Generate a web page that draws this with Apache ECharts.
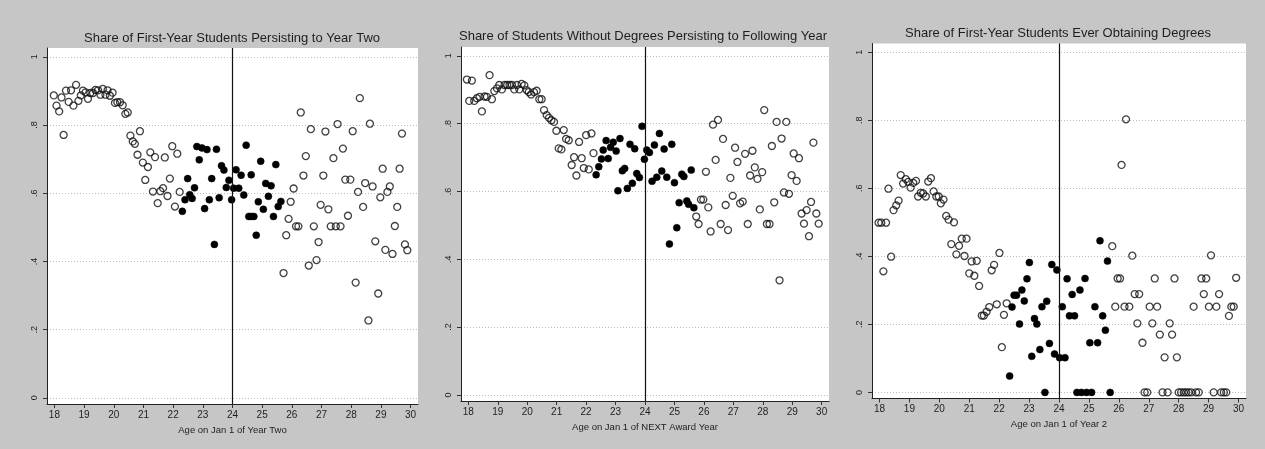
<!DOCTYPE html>
<html>
<head>
<meta charset="utf-8">
<title>Persistence and completion by age</title>
<script src="https://cdn.jsdelivr.net/npm/echarts@6/dist/echarts.min.js"></script>
<style>
  html, body { margin: 0; padding: 0; background: #c6c6c6; }
  #chart { width: 1265px; height: 449px; }
</style>
</head>
<body>
<div id="chart"></div>
<script>
// Panel titles and x-axis titles
const panelTitles = [
  'Share of First-Year Students Persisting to Year Two',
  'Share of Students Without Degrees Persisting to Following Year',
  'Share of First-Year Students Ever Obtaining Degrees'
];
const axisTitles = [
  'Age on Jan 1 of Year Two',
  'Age on Jan 1 of NEXT Award Year',
  'Age on Jan 1 of Year 2'
];

// Tick values
const ageTicks = [18, 19, 20, 21, 22, 23, 24, 25, 26, 27, 28, 29, 30];
const shareTicks = [0, 0.2, 0.4, 0.6, 0.8, 1];
const cutoffAge = 24;

// Panel 1: [age, share] points outside the bandwidth (open) and inside it (filled)
const p1Open = [
  [17.98,.887],[18.07,.857],[18.16,.840],[18.24,.881],[18.31,.771],[18.39,.901],[18.48,.868],[18.56,.902],
  [18.64,.857],[18.73,.918],[18.81,.871],[18.89,.887],[18.96,.901],[19.05,.896],[19.13,.877],[19.21,.894],
  [19.30,.894],[19.38,.903],[19.47,.902],[19.55,.889],[19.63,.906],[19.72,.889],[19.79,.902],[19.87,.886],
  [19.96,.895],[20.04,.865],[20.12,.867],[20.21,.867],[20.30,.858],[20.39,.833],[20.47,.837],[20.56,.769],
  [20.64,.752],[20.71,.745],[20.80,.713],[20.88,.782],[20.98,.690],[21.06,.639],[21.15,.677],[21.23,.720],
  [21.32,.605],[21.39,.706],[21.48,.571],[21.57,.606],[21.66,.615],[21.72,.705],[21.81,.592],[21.89,.643],
  [21.97,.738],[22.06,.561],[22.14,.716],[22.22,.604],
  [25.72,.366],[25.81,.477],[25.89,.525],[25.96,.575],[26.06,.614],[26.14,.503],[26.22,.503],[26.30,.837],
  [26.39,.652],[26.47,.709],[26.57,.388],[26.64,.788],[26.74,.503],[26.83,.404],[26.90,.457],[26.97,.566],
  [27.06,.652],[27.13,.781],[27.23,.553],[27.31,.503],[27.40,.703],[27.48,.503],[27.54,.803],[27.64,.503],
  [27.72,.731],[27.80,.640],[27.89,.534],[27.97,.640],[28.05,.782],[28.15,.338],[28.23,.604],[28.29,.879],
  [28.40,.560],[28.47,.630],[28.58,.227],[28.63,.804],[28.72,.620],[28.81,.459],[28.91,.306],[28.98,.588],
  [29.06,.672],[29.15,.434],[29.22,.604],[29.30,.620],[29.39,.422],[29.47,.504],[29.55,.560],[29.63,.672],
  [29.71,.775],[29.81,.450],[29.89,.433]
];
const p1Filled = [
  [22.31,.547],[22.40,.581],[22.49,.643],[22.56,.596],[22.64,.585],[22.72,.616],[22.80,.737],[22.88,.698],
  [22.97,.733],[23.06,.555],[23.14,.728],[23.22,.581],[23.30,.643],[23.39,.450],[23.46,.729],[23.55,.587],
  [23.63,.681],[23.71,.668],[23.79,.617],[23.88,.638],[23.97,.581],[24.04,.615],[24.12,.669],[24.21,.615],
  [24.29,.653],[24.38,.595],[24.46,.741],[24.55,.532],[24.63,.654],[24.63,.532],[24.72,.532],[24.80,.477],
  [24.87,.575],[24.95,.694],[25.04,.553],[25.12,.629],[25.21,.591],[25.30,.622],[25.38,.532],[25.46,.684],
  [25.54,.561],[25.63,.576]
];

// Panel 2
const p2Open = [
  [17.95,.930],[18.03,.867],[18.12,.927],[18.20,.867],[18.29,.875],[18.38,.879],[18.46,.836],[18.55,.880],
  [18.63,.879],[18.72,.943],[18.80,.872],[18.88,.896],[18.97,.904],[19.05,.914],[19.14,.901],[19.23,.914],
  [19.32,.914],[19.40,.914],[19.48,.914],[19.56,.901],[19.65,.914],[19.73,.901],[19.81,.917],[19.90,.913],
  [19.98,.899],[20.05,.893],[20.13,.886],[20.23,.893],[20.32,.897],[20.41,.872],[20.49,.872],[20.57,.840],
  [20.66,.825],[20.74,.817],[20.82,.810],[20.91,.805],[20.99,.779],[21.07,.727],[21.16,.724],[21.24,.781],
  [21.32,.755],[21.41,.751],[21.51,.678],[21.59,.701],[21.67,.647],[21.76,.746],[21.85,.698],[21.92,.669],
  [22.00,.766],[22.09,.665],[22.18,.771],[22.25,.713],
  [25.74,.526],[25.82,.504],[25.90,.576],[25.98,.576],[26.07,.658],[26.15,.553],[26.23,.482],[26.31,.797],
  [26.40,.693],[26.48,.811],[26.57,.504],[26.65,.755],[26.74,.560],[26.82,.486],[26.90,.640],[26.98,.587],
  [27.06,.729],[27.14,.687],[27.23,.565],[27.32,.570],[27.40,.711],[27.49,.504],[27.57,.647],[27.65,.720],
  [27.73,.671],[27.82,.637],[27.90,.547],[27.98,.657],[28.05,.840],[28.14,.504],[28.23,.504],[28.31,.734],
  [28.39,.568],[28.47,.805],[28.57,.338],[28.64,.756],[28.72,.597],[28.80,.805],[28.89,.593],[28.98,.648],
  [29.05,.712],[29.15,.631],[29.23,.698],[29.32,.535],[29.40,.505],[29.49,.545],[29.57,.468],[29.64,.569],
  [29.72,.744],[29.82,.535],[29.90,.505]
];
const p2Filled = [
  [22.34,.649],[22.43,.673],[22.52,.696],[22.58,.722],[22.68,.750],[22.75,.697],[22.83,.730],[22.92,.745],
  [23.02,.719],[23.08,.602],[23.15,.756],[23.23,.661],[23.31,.668],[23.40,.609],[23.49,.739],[23.57,.624],
  [23.65,.726],[23.72,.653],[23.81,.641],[23.90,.792],[23.98,.695],[24.06,.722],[24.15,.715],[24.24,.630],
  [24.32,.737],[24.40,.642],[24.49,.771],[24.57,.660],[24.65,.725],[24.74,.642],[24.83,.445],[24.91,.739],
  [25.00,.626],[25.08,.493],[25.16,.567],[25.25,.651],[25.32,.644],[25.42,.572],[25.48,.562],[25.57,.663],
  [25.66,.552]
];

// Panel 3
const p3Open = [
  [17.97,.499],[18.06,.499],[18.13,.356],[18.22,.499],[18.30,.599],[18.39,.399],[18.47,.536],[18.56,.550],
  [18.64,.564],[18.71,.639],[18.79,.614],[18.88,.627],[18.96,.619],[19.04,.602],[19.13,.616],[19.22,.622],
  [19.29,.576],[19.38,.587],[19.46,.585],[19.55,.576],[19.63,.620],[19.72,.630],[19.81,.591],[19.90,.576],
  [19.98,.576],[20.05,.556],[20.14,.567],[20.23,.519],[20.31,.508],[20.40,.436],[20.49,.500],[20.57,.406],
  [20.66,.431],[20.75,.452],[20.84,.401],[20.91,.452],[21.00,.350],[21.08,.385],[21.17,.343],[21.25,.387],
  [21.33,.313],[21.42,.226],[21.49,.226],[21.58,.237],[21.67,.251],[21.75,.359],[21.83,.375],[21.92,.259],
  [22.01,.410],[22.09,.133],[22.16,.228],[22.25,.262],
  [25.78,.430],[25.88,.252],[25.96,.335],[26.04,.335],[26.09,.669],[26.19,.252],[26.24,.803],[26.35,.252],
  [26.45,.402],[26.53,.289],[26.62,.203],[26.68,.289],[26.79,.146],[26.86,0],[26.95,0],[27.03,.252],
  [27.12,.203],[27.20,.335],[27.28,.252],[27.37,.170],[27.46,0],[27.53,.103],[27.63,0],[27.70,.203],
  [27.78,.170],[27.86,.335],[27.94,.103],[28.00,0],[28.08,0],[28.17,0],[28.25,0],[28.33,0],
  [28.42,0],[28.50,.252],[28.58,0],[28.67,0],[28.76,.335],[28.84,.289],[28.92,.335],[29.01,.252],
  [29.08,.403],[29.17,0],[29.26,.252],[29.35,.289],[29.42,0],[29.51,0],[29.59,0],[29.68,.225],
  [29.76,.252],[29.84,.252],[29.92,.337]
];
const p3Filled = [
  [22.35,.048],[22.43,.251],[22.50,.286],[22.58,.286],[22.68,.201],[22.76,.301],[22.84,.269],[22.93,.334],
  [23.01,.382],[23.09,.106],[23.18,.217],[23.26,.201],[23.36,.126],[23.43,.252],[23.53,0],[23.59,.268],
  [23.68,.144],[23.76,.376],[23.85,.113],[23.93,.360],[24.02,.102],[24.11,.252],[24.20,.102],[24.27,.334],
  [24.35,.225],[24.44,.288],[24.52,.225],[24.60,0],[24.70,.301],[24.75,0],[24.87,.335],[24.92,0],
  [25.03,.146],[25.09,0],[25.20,.252],[25.29,.146],[25.37,.446],[25.46,.225],[25.55,.183],[25.62,.386],
  [25.71,0]
];

const openSets = [p1Open, p2Open, p3Open];
const filledSets = [p1Filled, p2Filled, p3Filled];

// Layout of the three plot regions
const grids = [
  { left: 47,  top: 48,   width: 371, height: 356 },
  { left: 461, top: 47,   width: 368, height: 354 },
  { left: 872, top: 43.5, width: 374, height: 355 }
];
const titlePos = [
  { x: 232,  y: 32 },
  { x: 643,  y: 30 },
  { x: 1058, y: 27 }
];

const FONT = '"Liberation Sans", Arial, Helvetica, sans-serif';
const INK = '#1e1e1e';

function shareLabel(v) {
  if (Math.abs(v) < 1e-9) return '0';
  if (Math.abs(v - 1) < 1e-9) return '1';
  return String(Math.round(v * 10) / 10).replace(/^0/, '');
}

const option = {
  backgroundColor: '#c6c6c6',
  animation: false,
  title: panelTitles.map((t, i) => ({
    text: t,
    left: titlePos[i].x,
    top: titlePos[i].y,
    textAlign: 'center',
    padding: 0,
    textStyle: { fontFamily: FONT, fontSize: 13, fontWeight: 'normal', color: INK }
  })),
  grid: grids.map(g => ({
    left: g.left, top: g.top, width: g.width, height: g.height,
    show: true, backgroundColor: '#ffffff', borderWidth: 0
  })),
  xAxis: grids.map((g, i) => ({
    type: 'value',
    gridIndex: i,
    min: 17.75,
    max: 30.25,
    name: axisTitles[i],
    nameLocation: 'middle',
    nameGap: 14,
    nameTextStyle: { fontFamily: FONT, fontSize: 9.5, color: INK },
    axisLine: { show: true, onZero: false, lineStyle: { color: '#222', width: 1 } },
    axisTick: { show: true, length: 4, customValues: ageTicks, lineStyle: { color: '#333' } },
    axisLabel: {
      customValues: ageTicks, margin: 6,
      fontFamily: FONT, fontSize: 10, color: INK
    },
    splitLine: { show: false }
  })),
  yAxis: grids.map((g, i) => ({
    type: 'value',
    gridIndex: i,
    min: -0.018,
    max: 1.026,
    axisLine: { show: true, onZero: false, lineStyle: { color: '#222', width: 1 } },
    axisTick: { show: true, length: 4, customValues: shareTicks, lineStyle: { color: '#333' } },
    axisLabel: {
      customValues: shareTicks, rotate: 90, margin: 8,
      fontFamily: FONT, fontSize: 9, color: INK,
      formatter: shareLabel
    },
    splitLine: { show: true, lineStyle: { color: '#bdbdbd', type: [1, 2], width: 1 } }
  })),
  series: []
};

for (let i = 0; i < 3; i++) {
  option.series.push({
    type: 'scatter',
    xAxisIndex: i, yAxisIndex: i,
    data: openSets[i],
    symbol: 'circle',
    symbolSize: 7,
    silent: true,
    itemStyle: { color: 'rgba(255,255,255,0)', borderColor: '#111', borderWidth: 1.3 },
    markLine: {
      silent: true,
      symbol: ['none', 'none'],
      label: { show: false },
      lineStyle: { color: '#111', type: 'solid', width: 1.2 },
      data: [{ xAxis: cutoffAge }]
    }
  });
  option.series.push({
    type: 'scatter',
    xAxisIndex: i, yAxisIndex: i,
    data: filledSets[i],
    symbol: 'circle',
    symbolSize: 7,
    silent: true,
    itemStyle: { color: '#000', borderColor: '#000', borderWidth: 0.5, opacity: 1 }
  });
}

const chart = echarts.init(document.getElementById('chart'), null, { renderer: 'canvas' });
chart.setOption(option);
</script>
</body>
</html>
